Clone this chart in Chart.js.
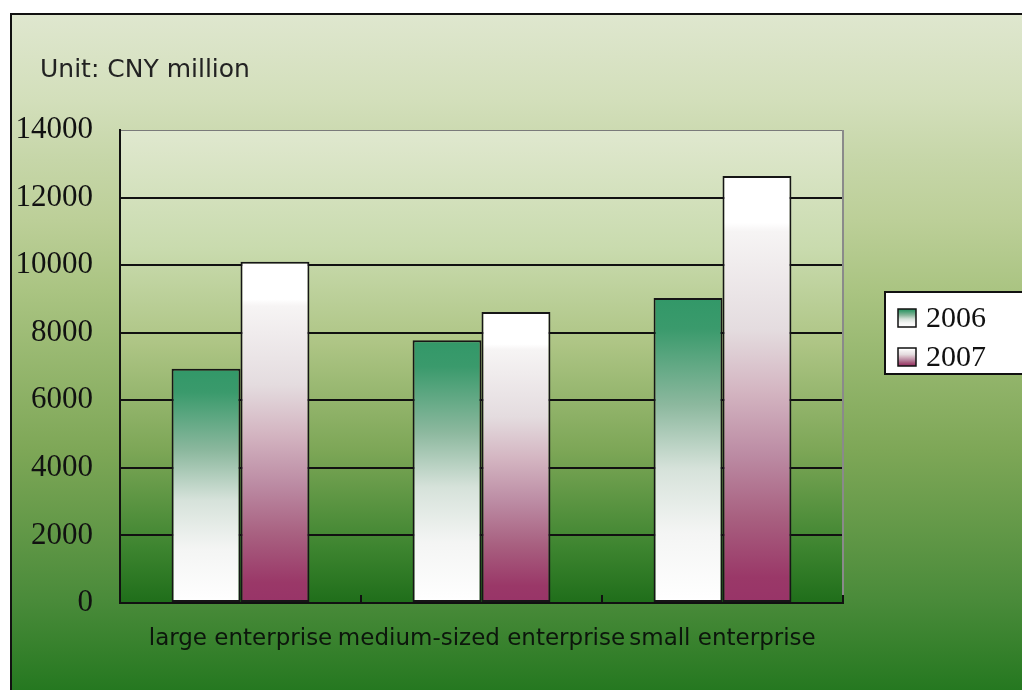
<!DOCTYPE html>
<html>
<head>
<meta charset="utf-8">
<script src="https://cdn.jsdelivr.net/npm/chart.js@4"></script>
<style>
  html, body { margin: 0; padding: 0; background: #fff; }
  canvas { display: block; }
</style>
</head>
<body>
<canvas id="enterpriseChart" width="1022" height="690"></canvas>
<script>
const categories = ['large enterprise', 'medium-sized enterprise', 'small enterprise'];
const seriesNames = ['2006', '2007'];
const values2006 = [6930, 7780, 9030];
const values2007 = [10100, 8610, 12640];
const yMin = 0;
const yMax = 14000;
const yStep = 2000;
const unitLabel = 'Unit: CNY million';

// gradient stops for each series (top -> bottom of a bar)
const stops2006 = [[0, '#329868'], [0.1, '#3a9a6c'], [0.35, '#8cb89e'], [0.56, '#d6e2da'], [0.77, '#f4f5f4'], [1, '#ffffff']];
const stops2007 = [[0, '#ffffff'], [0.11, '#ffffff'], [0.13, '#f6f4f4'], [0.36, '#e4dcdf'], [0.5, '#d4b6c2'], [0.65, '#bc8ca4'], [0.8, '#a86080'], [0.94, '#9a3868'], [1, '#983468']];

function makeGradient(ctx, top, bottom, stops) {
    const g = ctx.createLinearGradient(0, top, 0, bottom);
    stops.forEach(s => g.addColorStop(s[0], s[1]));
    return g;
}

function barFill(stops) {
    return function (context) {
        const chart = context.chart;
        const y = chart.scales.y;
        if (!chart.chartArea || !y || context.raw == null) return stops[0][1];
        const top = y.getPixelForValue(context.raw);
        const bottom = y.getPixelForValue(0);
        return makeGradient(chart.ctx, top, bottom, stops);
    };
}

// backgrounds, frame, unit text, plot borders
const backdropPlugin = {
    id: 'backdrop',
    beforeDraw(chart) {
        const { ctx, chartArea: a, width, height } = chart;
        ctx.save();
        const outer = ctx.createLinearGradient(0, 13, 0, height);
        outer.addColorStop(0, '#dfe7cf');
        outer.addColorStop(0.128, '#d3dfbb');
        outer.addColorStop(0.217, '#c6d6a8');
        outer.addColorStop(0.306, '#bccf98');
        outer.addColorStop(0.409, '#aac482');
        outer.addColorStop(0.645, '#7ea757');
        outer.addColorStop(0.867, '#4a8b3a');
        outer.addColorStop(1, '#257820');
        ctx.fillStyle = outer;
        ctx.fillRect(10, 13, width, height);

        const inner = ctx.createLinearGradient(0, a.top, 0, a.bottom);
        inner.addColorStop(0, '#e0e8cf');
        inner.addColorStop(0.25, '#c9dbae');
        inner.addColorStop(0.45, '#aec585');
        inner.addColorStop(0.68, '#7ca656');
        inner.addColorStop(0.88, '#3e8530');
        inner.addColorStop(1, '#1f6e1a');
        ctx.fillStyle = inner;
        ctx.fillRect(a.left, a.top, a.right - a.left, a.bottom - a.top);

        ctx.strokeStyle = '#111';
        ctx.lineWidth = 2;
        ctx.beginPath();
        ctx.moveTo(11, height + 5);
        ctx.lineTo(11, 14);
        ctx.lineTo(width + 5, 14);
        ctx.stroke();

        ctx.fillStyle = '#222';
        ctx.font = '25px "DejaVu Sans"';
        ctx.textBaseline = 'alphabetic';
        ctx.textAlign = 'left';
        ctx.fillText(unitLabel, 40, 77);
        ctx.restore();
    },
    beforeDatasetsDraw(chart) {
        const { ctx, chartArea: a } = chart;
        ctx.save();
        ctx.strokeStyle = '#8a8a8a';
        ctx.lineWidth = 2;
        ctx.beginPath();
        ctx.moveTo(a.right, a.top);
        ctx.lineTo(a.right, a.bottom);
        ctx.stroke();
        ctx.restore();
    },
    afterDraw(chart) {
        const { ctx, chartArea: a, scales } = chart;
        ctx.save();
        // category boundary tick marks
        ctx.strokeStyle = '#111';
        ctx.lineWidth = 2;
        for (let i = 0; i <= categories.length; i++) {
            const x = Math.round(scales.x.getPixelForValue(i - 0.5));
            ctx.beginPath();
            ctx.moveTo(x, a.bottom);
            ctx.lineTo(x, a.bottom - 8);
            ctx.stroke();
        }
        // legend box
        ctx.fillStyle = '#fff';
        ctx.fillRect(885, 292, 150, 82);
        ctx.strokeStyle = '#111';
        ctx.lineWidth = 2;
        ctx.strokeRect(885, 292, 150, 82);
        const sets = chart.data.datasets;
        const legendStops = [stops2006, stops2007];
        sets.forEach((ds, i) => {
            const sy = 309 + i * 39;
            ctx.fillStyle = makeGradient(ctx, sy, sy + 18, legendStops[i]);
            ctx.fillRect(898, sy, 18, 18);
            ctx.lineWidth = 1.5;
            ctx.strokeStyle = '#111';
            ctx.strokeRect(898, sy, 18, 18);
            ctx.fillStyle = '#111';
            ctx.font = '30px "Liberation Serif"';
            ctx.textAlign = 'left';
            ctx.textBaseline = 'middle';
            ctx.fillText(ds.label, 926, sy + 10);
        });
        ctx.restore();
    }
};

new Chart(document.getElementById('enterpriseChart'), {
    type: 'bar',
    data: {
        labels: categories,
        datasets: [{
            label: seriesNames[0],
            data: values2006,
            backgroundColor: barFill(stops2006),
            borderColor: '#161616',
            borderWidth: 2,
            borderSkipped: false
        }, {
            label: seriesNames[1],
            data: values2007,
            backgroundColor: barFill(stops2007),
            borderColor: '#161616',
            borderWidth: 2,
            borderSkipped: false
        }]
    },
    options: {
        responsive: false,
        animation: false,
        layout: { padding: { left: 15, right: 179, top: 130, bottom: 0 } },
        plugins: {
            legend: { display: false },
            tooltip: { enabled: false }
        },
        datasets: {
            bar: { categoryPercentage: 0.572, barPercentage: 1 }
        },
        scales: {
            x: {
                grid: { display: false, drawTicks: false },
                border: { display: true, color: '#111', width: 2 },
                ticks: {
                    autoSkip: false,
                    maxRotation: 0,
                    padding: 22,
                    color: '#0c160c',
                    font: { family: 'DejaVu Sans', size: 23 }
                },
                afterFit(scale) { scale.height = 87; }
            },
            y: {
                min: yMin,
                max: yMax,
                grid: {
                    drawTicks: false,
                    color: ctx => ctx.tick && ctx.tick.value === yMax ? '#7a7a7a' : '#111',
                    lineWidth: ctx => ctx.tick && ctx.tick.value === yMax ? 1 : 2
                },
                border: { display: true, color: '#111', width: 2 },
                ticks: {
                    stepSize: yStep,
                    padding: 27,
                    color: '#111',
                    font: { family: 'Liberation Serif', size: 31 },
                    callback: v => String(v)
                },
                afterFit(scale) { scale.width = 105; }
            }
        }
    },
    plugins: [backdropPlugin]
});
</script>
</body>
</html>
